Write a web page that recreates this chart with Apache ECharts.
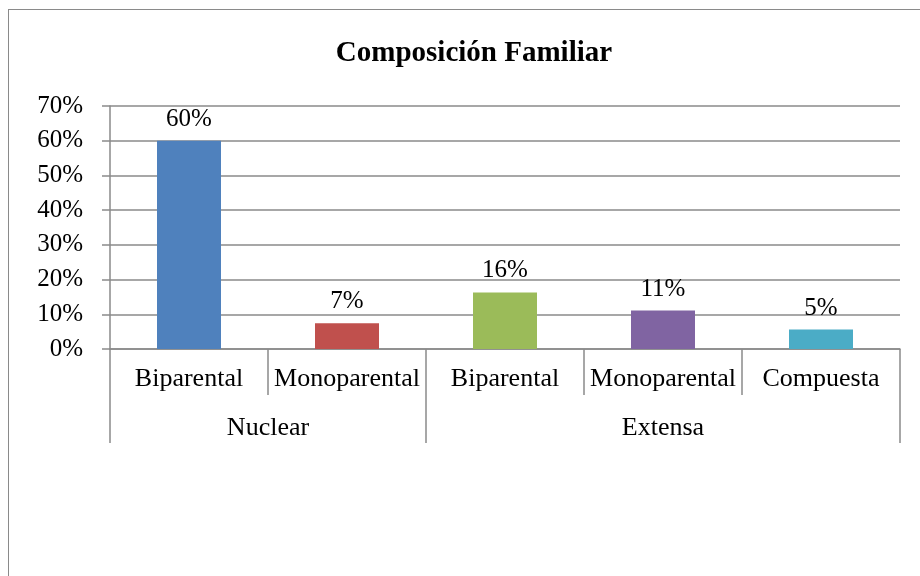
<!DOCTYPE html>
<html style="height: 100%">
<head>
    <meta charset="utf-8">
    <title>Composición Familiar</title>
    <script src="https://cdn.jsdelivr.net/npm/echarts@6/dist/echarts.min.js"></script>
</head>
<body style="height: 100%; margin: 0; overflow: hidden; background: #fff">
<!-- marco del gráfico -->
<div style="position: absolute; left: 8px; top: 9px; width: 1000px; height: 1000px; border: 1px solid #8a8a8a"></div>
<div id="main" style="position: absolute; left: 0; top: 0; width: 920px; height: 576px"></div>

<script type="text/javascript">

    // datos
    var categorias = ['Biparental', 'Monoparental', 'Biparental', 'Monoparental', 'Compuesta'];
    var grupos = ['Nuclear', 'Extensa'];
    var grupoCentro = [1, 3.5];      // posición del rótulo de cada grupo (en unidades de categoría)
    var grupoLimites = [0, 2, 5];    // separadores de grupo
    var valores = [60, 7.4, 16.3, 11.1, 5.6];
    var etiquetas = ['60%', '7%', '16%', '11%', '5%'];
    var colores = ['#4F81BD', '#C0504D', '#9BBB59', '#8064A2', '#4BACC6'];

    var fuente = '"Liberation Serif", "Times New Roman", serif';
    var gris = '#8a8a8a';

    var datos = [];
    for (var i = 0; i < valores.length; i++) {
        datos.push({value: valores[i], itemStyle: {color: colores[i]}});
    }

    var myChart = echarts.init(document.getElementById('main'));

    var option = {
        animation: false,
        title: {
            text: 'Composición Familiar',
            left: 469,
            textAlign: 'center',
            top: 34,
            textStyle: {fontFamily: fuente, fontSize: 29, fontWeight: 'bold', color: '#000'}
        },
        grid: {left: 110, right: 20, top: 106, bottom: 227, containLabel: false},
        xAxis: [
            {
                type: 'category',
                data: categorias,
                axisLine: {show: true, lineStyle: {color: gris, width: 1.5}},
                axisTick: {show: true, interval: 0, length: 46, lineStyle: {color: gris, width: 1.5}},
                axisLabel: {
                    interval: 0, margin: 17, color: '#000',
                    fontFamily: fuente, fontSize: 26
                }
            },
            {
                type: 'value',
                min: 0,
                max: 5,
                position: 'bottom',
                axisLine: {show: false},
                splitLine: {show: false},
                axisTick: {show: true, customValues: grupoLimites, length: 94, lineStyle: {color: gris, width: 1.5}},
                axisLabel: {
                    customValues: grupoCentro,
                    margin: 66, color: '#000',
                    fontFamily: fuente, fontSize: 26,
                    formatter: function (v) {
                        return grupos[grupoCentro.indexOf(v)] || '';
                    }
                }
            }
        ],
        yAxis: {
            type: 'value',
            min: 0,
            max: 70,
            interval: 10,
            axisLine: {show: true, lineStyle: {color: gris, width: 1.5}},
            axisTick: {show: true, length: 8, lineStyle: {color: gris, width: 1.5}},
            splitLine: {show: true, lineStyle: {color: gris, width: 1.5}},
            axisLabel: {
                margin: 27, color: '#000',
                fontFamily: fuente, fontSize: 25,
                formatter: '{value}%'
            }
        },
        series: [
            {
                type: 'bar',
                xAxisIndex: 0,
                barWidth: 64,
                data: datos,
                label: {
                    show: true,
                    position: 'top',
                    distance: 9,
                    color: '#000',
                    fontFamily: fuente,
                    fontSize: 25,
                    formatter: function (p) {
                        return etiquetas[p.dataIndex];
                    }
                }
            }
        ]
    };
    myChart.setOption(option, true);

</script>
</body>
</html>
